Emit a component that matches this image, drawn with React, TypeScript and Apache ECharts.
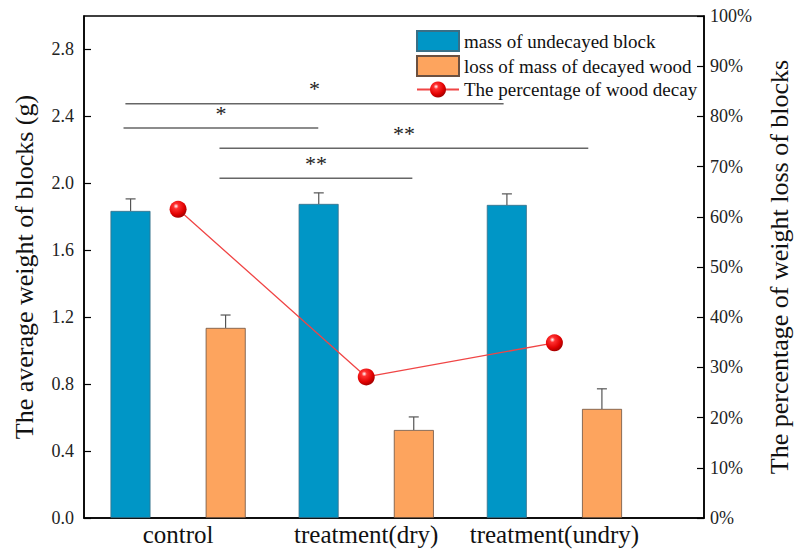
import React, { useEffect, useRef } from "react";
import * as echarts from "echarts";

const categories = ["control", "treatment(dry)", "treatment(undry)"];
const categoryPos = [0.5, 1.5, 2.5];
const undecayed = [1.835, 1.877, 1.871];
const undecayedErr = [0.072, 0.066, 0.066];
const lossMass = [1.136, 0.526, 0.652];
const lossMassErr = [0.077, 0.078, 0.12];
const decayPct = [61.5, 28.1, 34.9];
const leftTicks = [0, 0.4, 0.8, 1.2, 1.6, 2.0, 2.4, 2.8];
// significance brackets: [x start, x end, y level, label]
const sigLines: [number, number, number, string][] = [
  [0.22, 2.23, 2.475, "*"],
  [0.21, 1.245, 2.33, "*"],
  [0.72, 2.68, 2.21, "**"],
  [0.72, 1.745, 2.03, "**"],
];

const FONT = "Times New Roman, Liberation Serif, serif";
const BLUE = "#0096C6";
const ORANGE = "#FDA45E";
const BAR_OFFSET = 48;

export default function App() {
  const ref = useRef<HTMLDivElement>(null);
  useEffect(() => {
    if (!ref.current) return;
    const chart = echarts.init(ref.current, undefined, { renderer: "svg" });

    const errSeries = (vals: number[], errs: number[], off: number) => ({
      type: "custom",
      xAxisIndex: 0,
      yAxisIndex: 0,
      silent: true,
      z: 5,
      data: categoryPos.map((x, i) => [x, vals[i], errs[i]]),
      encode: { x: 0, y: 1 },
      renderItem: (params: any, api: any) => {
        const x = api.value(0);
        const v = api.value(1);
        const e = api.value(2);
        const p0 = api.coord([x, v]);
        const p1 = api.coord([x, v + e]);
        const cx = p0[0] + off;
        const style = { stroke: "#555", lineWidth: 1.2 };
        return {
          type: "group",
          children: [
            { type: "line", shape: { x1: cx, y1: p0[1], x2: cx, y2: p1[1] }, style },
            { type: "line", shape: { x1: cx - 5, y1: p1[1], x2: cx + 5, y2: p1[1] }, style },
          ],
        };
      },
    });

    const option: any = {
      animation: false,
      backgroundColor: "#fff",
      textStyle: { fontFamily: FONT },
      grid: {
        left: 84,
        right: 85,
        top: 16,
        bottom: 36,
        show: true,
        borderColor: "#000",
        borderWidth: 1.5,
      },
      legend: {
        orient: "vertical",
        left: 411,
        top: 25,
        itemWidth: 42,
        itemHeight: 20,
        itemGap: 3,
        data: [
          { name: "mass of undecayed block", icon: "rect" },
          { name: "loss of mass of decayed wood", icon: "rect" },
          { name: "The percentage of wood decay" },
        ],
        textStyle: { fontFamily: FONT, fontSize: 19, color: "#111" },
      },
      xAxis: {
        type: "value",
        min: 0,
        max: 3.295,
        interval: 0.5,
        axisLine: { show: true, onZero: false, lineStyle: { color: "#000", width: 1.5 } },
        axisTick: { show: false },
        splitLine: { show: false },
        axisLabel: {
          showMaxLabel: false,
          showMinLabel: false,
          margin: 4,
          fontFamily: FONT,
          fontSize: 25,
          color: "#111",
          formatter: (v: number) => {
            const i = categoryPos.findIndex((p) => Math.abs(p - v) < 1e-6);
            return i >= 0 ? categories[i] : "";
          },
        },
      },
      yAxis: [
        {
          type: "value",
          min: 0,
          max: 3.0,
          interval: 0.4,
          name: "The average weight of blocks (g)",
          nameLocation: "middle",
          nameGap: 47,
          nameTextStyle: { fontFamily: FONT, fontSize: 26, color: "#111" },
          axisLine: { show: true, lineStyle: { color: "#000", width: 1.5 } },
          axisTick: { show: true, inside: true, length: 7, lineStyle: { color: "#000", width: 1.2 } },
          splitLine: { show: false },
          axisLabel: {
            showMaxLabel: false,
            margin: 10,
            fontFamily: FONT,
            fontSize: 18,
            color: "#222",
            formatter: (v: number) => (leftTicks.some((t) => Math.abs(t - v) < 1e-6) ? v.toFixed(1) : ""),
          },
        },
        {
          type: "value",
          min: 0,
          max: 100,
          interval: 10,
          position: "right",
          name: "The percentage of weight loss of blocks",
          nameLocation: "middle",
          nameGap: 62,
          nameRotate: 90,
          nameTextStyle: { fontFamily: FONT, fontSize: 26, color: "#111" },
          axisLine: { show: true, lineStyle: { color: "#000", width: 1.5 } },
          axisTick: { show: true, inside: true, length: 7, lineStyle: { color: "#000", width: 1.2 } },
          splitLine: { show: false },
          axisLabel: {
            margin: 6,
            fontFamily: FONT,
            fontSize: 18,
            color: "#222",
            formatter: "{value}%",
          },
        },
      ],
      series: [
        {
          name: "mass of undecayed block",
          type: "bar",
          barWidth: 40,
          barGap: "138%",
          data: categoryPos.map((x, i) => [x, undecayed[i]]),
          itemStyle: { color: BLUE, borderColor: "#3a6f86", borderWidth: 0.8 },
        },
        {
          name: "loss of mass of decayed wood",
          type: "bar",
          barWidth: 40,
          barGap: "138%",
          data: categoryPos.map((x, i) => [x, lossMass[i]]),
          itemStyle: { color: ORANGE, borderColor: "#6b5040", borderWidth: 0.8 },
        },
        errSeries(undecayed, undecayedErr, -BAR_OFFSET + 0.5),
        errSeries(lossMass, lossMassErr, BAR_OFFSET - 0.5),
        {
          name: "The percentage of wood decay",
          type: "line",
          yAxisIndex: 1,
          z: 10,
          data: categoryPos.map((x, i) => [x, decayPct[i]]),
          symbol: "circle",
          symbolSize: 17,
          lineStyle: { color: "#F04545", width: 1.3 },
          itemStyle: {
            color: new echarts.graphic.RadialGradient(0.38, 0.32, 0.7, [
              { offset: 0, color: "#ffffff" },
              { offset: 0.22, color: "#ff3030" },
              { offset: 0.7, color: "#e00000" },
              { offset: 1, color: "#a00000" },
            ]),
            borderWidth: 0,
          },
        },
        {
          type: "custom",
          silent: true,
          z: 4,
          data: sigLines.map((s) => [s[0], s[1], s[2], s[3]]),
          encode: { x: 0, y: 2 },
          renderItem: (params: any, api: any) => {
            const s = sigLines[params.dataIndex];
            const a = api.coord([s[0], s[2]]);
            const b = api.coord([s[1], s[2]]);
            return {
              type: "group",
              children: [
                { type: "line", shape: { x1: a[0], y1: a[1], x2: b[0], y2: b[1] }, style: { stroke: "#666", lineWidth: 1.5 } },
                {
                  type: "text",
                  x: (a[0] + b[0]) / 2,
                  y: a[1] - 4,
                  style: {
                    text: s[3],
                    fontSize: 22,
                    fontFamily: FONT,
                    fill: "#222",
                    align: "center",
                    verticalAlign: "bottom",
                    letterSpacing: 1,
                  },
                },
              ],
            };
          },
        },
      ],
    };
    chart.setOption(option);
    return () => chart.dispose();
  }, []);
  return <div ref={ref} style={{ width: 800, height: 554, position: "absolute", left: 0, top: 0, background: "#fff" }} />;
}
